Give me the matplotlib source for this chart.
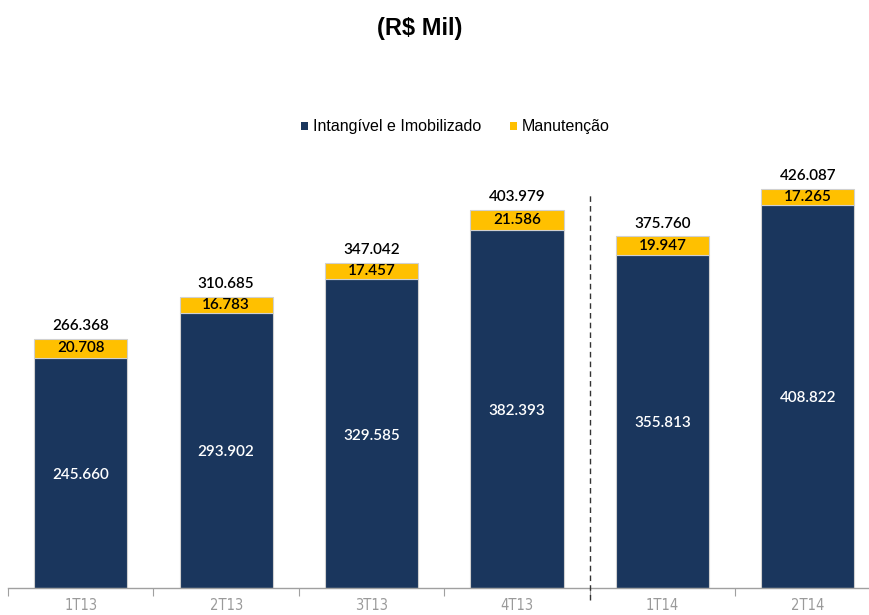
import matplotlib
matplotlib.use("Agg")
import matplotlib.pyplot as plt
from matplotlib.patches import Patch
import numpy as np

categories = ["1T13", "2T13", "3T13", "4T13", "1T14", "2T14"]
intangivel = [245660, 293902, 329585, 382393, 355813, 408822]
manutencao = [20708, 16783, 17457, 21586, 19947, 17265]
totais = ["266.368", "310.685", "347.042", "403.979", "375.760", "426.087"]
lab_int = ["245.660", "293.902", "329.585", "382.393", "355.813", "408.822"]
lab_man = ["20.708", "16.783", "17.457", "21.586", "19.947", "17.265"]

blue = "#1A365D"
yellow = "#FFC000"

fig = plt.figure(figsize=(8.69, 6.15), dpi=100)
ax = fig.add_axes([8/869, 27/615, 861/869, (588-140)/615])
x = np.arange(len(categories))
w = 0.64
ax.bar(x, intangivel, w, color=blue, edgecolor="#D0D0D0", linewidth=0.8, zorder=2)
ax.bar(x, manutencao, w, bottom=intangivel, color=yellow, edgecolor="#D0D0D0", linewidth=0.8, zorder=2)

lblfont = "Lato"
for i in x:
    ax.text(i, intangivel[i] / 2 - 2000, lab_int[i], ha="center", va="center", color="white",
            fontsize=11, family=lblfont, fontweight="semibold")
    ax.text(i, intangivel[i] + manutencao[i] / 2, lab_man[i], ha="center", va="center",
            color="black", fontsize=11, family=lblfont, fontweight="semibold")
    ax.text(i, intangivel[i] + manutencao[i] + 6000, totais[i], ha="center", va="bottom",
            color="black", fontsize=11, family=lblfont, fontweight="semibold")

ax.set_xlim(-0.5, 5.42)
ax.set_ylim(0, (588 - 140) * 1068)
for s in ["top", "right", "left"]:
    ax.spines[s].set_visible(False)
ax.spines["bottom"].set_color("#A0A0A0")
ax.spines["bottom"].set_linewidth(1.0)
ax.set_yticks([])
ax.set_xticks(np.arange(-0.5, 5.5, 1.0))
ax.set_xticklabels([])
ax.set_xticks(x, minor=True)
ax.set_xticklabels(categories, minor=True, color="#9A9A9A", fontsize=10.5,
                   family=["DejaVu Sans"], fontstretch="condensed", fontweight="normal")
ax.tick_params(axis="x", which="major", length=6, color="#A0A0A0", direction="out")
ax.tick_params(axis="x", which="minor", length=0, pad=7)

ax.plot([3.5, 3.5], [-13000, 420000], ls=(0, (4, 3)), color="#333333", lw=1.0,
        clip_on=False, zorder=3)

fig.text(420/869, 1 - 28/615, "(R$ Mil)", ha="center", va="center", fontsize=17,
         fontweight="bold", family="Liberation Sans")

handles = [Patch(facecolor=blue, edgecolor="none"), Patch(facecolor=yellow, edgecolor="none")]
fig.legend(handles, ["Intangível e Imobilizado", "Manutenção"], loc="center",
           bbox_to_anchor=(455/869, 1 - 127/615), ncol=2, frameon=False,
           prop={"family": "Liberation Sans", "size": 11.5},
           handlelength=0.45, handleheight=0.45, handletextpad=0.3, columnspacing=1.8)

fig.savefig("out.png", dpi=100)
